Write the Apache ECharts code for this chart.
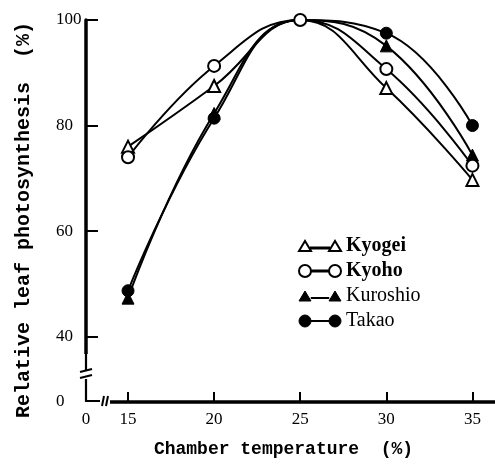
<!DOCTYPE html>
<html>
<head>
<meta charset="utf-8">
<script src="https://cdn.jsdelivr.net/npm/echarts@6/dist/echarts.min.js"></script>
<style>html,body{margin:0;padding:0;background:#fff}#c{width:495px;height:464px}</style>
</head>
<body>
<div id="c"></div>
<script>
// ---- data ----
const temps = [15, 20, 25, 30, 35];
const kyogei   = [76.0, 87.5, 100, 87.1, 69.7];
const kyoho    = [74.0, 91.3, 100, 90.7, 72.4];
const kuroshio = [47.3, 82.3, 100, 95.1, 74.4];
const takao    = [48.7, 81.4, 100, 97.5, 80.0];
const xTicks = [15, 20, 25, 30, 35];
const yTicks = [40, 60, 80, 100];
const xBreakValue = 12.56;  // position of the "0" label on the broken x axis
const yBreakValue = 27.62;  // position of the "0" label on the broken y axis

const chart = echarts.init(document.getElementById('c'), null, {renderer: 'canvas'});

function pts(arr, hidePeak) {
  return temps.map((t, i) => {
    const d = {value: [t, arr[i]]};
    if (hidePeak && t === 25) d.symbol = 'none';
    return d;
  });
}

const openTri = 'path://M0 12 L6 2 L12 12 Z M30 12 L36 2 L42 12 Z M12 8.5 L30 8.5 L30 9.5 L12 9.5 Z';
const openCirc = 'path://M0 6 A6 6 0 1 0 12 6 A6 6 0 1 0 0 6 Z M30 6 A6 6 0 1 0 42 6 A6 6 0 1 0 30 6 Z M12 5.5 L30 5.5 L30 6.5 L12 6.5 Z';

const serif = 'Liberation Serif';
const mono = 'Liberation Mono';

function series(name, data, symbol, open, z) {
  return {
    name, type: 'line', data, z,
    smooth: 0.45,
    symbol, symbolSize: 12,
    lineStyle: {color: '#000', width: 2},
    itemStyle: open ? {color: '#fff', borderColor: '#000', borderWidth: 2}
                    : {color: '#000', borderColor: '#000', borderWidth: 1},
    emphasis: {disabled: true},
    animation: false
  };
}

chart.setOption({
  backgroundColor: '#fff',
  animation: false,
  grid: {left: 86, right: 0, top: 20, bottom: 62},
  xAxis: {
    type: 'value', min: xBreakValue, max: 36.31,
    name: 'Chamber temperature  (%)', nameLocation: 'middle', nameGap: 38,
    nameTextStyle: {fontFamily: mono, fontSize: 18, color: '#000', fontWeight: 'bold', padding: [0, 14, 0, 0]},
    axisLine: {show: true, lineStyle: {color: '#000', width: 3.5}},
    axisTick: {show: true, inside: true, length: 10, lineStyle: {color: '#000', width: 2}, customValues: xTicks},
    axisLabel: {customValues: [xBreakValue].concat(xTicks), margin: 9,
      fontFamily: serif, fontSize: 17, color: '#000',
      formatter: v => (v < 14 ? '0' : String(Math.round(v)))},
    splitLine: {show: false}
  },
  yAxis: {
    type: 'value', min: yBreakValue, max: 100,
    name: 'Relative leaf photosynthesis  (%)', nameLocation: 'middle', nameGap: 52,
    nameTextStyle: {fontFamily: mono, fontSize: 20, color: '#000', fontWeight: 'bold', padding: [0, 18, 0, 0]},
    axisLine: {show: true, lineStyle: {color: '#000', width: 3.5}},
    axisTick: {show: true, inside: true, length: 12, lineStyle: {color: '#000', width: 2}, customValues: yTicks},
    axisLabel: {customValues: [yBreakValue].concat(yTicks), margin: 30, align: 'left',
      fontFamily: serif, fontSize: 17, color: '#000',
      formatter: v => (v < 30 ? '0' : String(Math.round(v)))},
    splitLine: {show: false}
  },
  legend: {
    orient: 'vertical', left: 293, top: 231, itemWidth: 42, itemHeight: 12, itemGap: 5,
    textStyle: {fontFamily: serif, fontSize: 20, color: '#000'},
    data: [
      {name: 'Kyogei', icon: openTri, itemStyle: {color: '#fff', borderColor: '#000', borderWidth: 2}, textStyle: {fontWeight: 'bold'}},
      {name: 'Kyoho', icon: openCirc, itemStyle: {color: '#fff', borderColor: '#000', borderWidth: 2}, textStyle: {fontWeight: 'bold'}},
      {name: 'Kuroshio', icon: openTri, itemStyle: {color: '#000', borderColor: '#000', borderWidth: 1}},
      {name: 'Takao', icon: openCirc, itemStyle: {color: '#000', borderColor: '#000', borderWidth: 1}}
    ]
  },
  series: [
    series('Kyogei', pts(kyogei, true), 'triangle', true, 2),
    series('Kuroshio', pts(kuroshio, true), 'triangle', false, 2),
    series('Takao', pts(takao, true), 'circle', false, 2),
    series('Kyoho', pts(kyoho, false), 'circle', true, 3)
  ],
  graphic: [
    // erase lower part of y axis and left part of x axis, then draw break marks
    {type: 'rect', shape: {x: 82, y: 354, width: 9, height: 51}, style: {fill: '#fff'}, z: 100},
    {type: 'rect', shape: {x: 82, y: 398, width: 28, height: 8}, style: {fill: '#fff'}, z: 100},
    {type: 'polyline', shape: {points: [[86, 352], [86, 370]]}, style: {stroke: '#000', lineWidth: 2.2, fill: null}, z: 101},
    {type: 'line', shape: {x1: 80, y1: 372, x2: 92, y2: 369}, style: {stroke: '#000', lineWidth: 2}, z: 101},
    {type: 'line', shape: {x1: 80, y1: 378, x2: 92, y2: 375}, style: {stroke: '#000', lineWidth: 2}, z: 101},
    {type: 'polyline', shape: {points: [[86, 379], [86, 401], [100, 401]]}, style: {stroke: '#000', lineWidth: 2.2, fill: null}, z: 101},
    {type: 'line', shape: {x1: 102, y1: 406, x2: 104, y2: 396}, style: {stroke: '#000', lineWidth: 2}, z: 101},
    {type: 'line', shape: {x1: 106, y1: 406, x2: 108, y2: 396}, style: {stroke: '#000', lineWidth: 2}, z: 101}
  ]
});
</script>
</body>
</html>
